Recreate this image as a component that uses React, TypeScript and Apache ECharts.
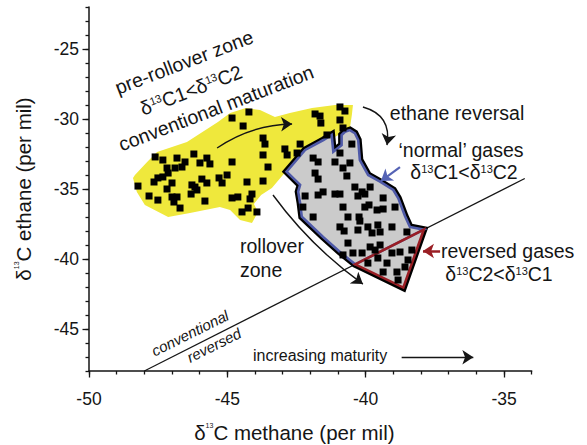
import React, { useEffect, useRef } from 'react';
import * as echarts from 'echarts';

// ---------- axis ticks ----------
const xTicks = [-50, -45, -40, -35];
const yTicks = [-45, -40, -35, -30, -25];

// ---------- samples (δ13C methane, δ13C ethane) ----------
const preRolloverSamples: number[][] = [
  [-44.22, -29.5], [-44.83, -29.93], [-44.43, -30.5], [-43.71, -31.36], [-43.64, -31.79],
  [-43.71, -32.57], [-43.53, -33.43], [-43.71, -34.43], [-47.61, -32.71], [-47.33, -32.93],
  [-46.82, -32.79], [-46.53, -33.07], [-46.21, -32.5], [-45.74, -32.79], [-45.63, -33.21],
  [-45.99, -33.14], [-46.64, -33.43], [-46.89, -33.5], [-47.18, -33.5], [-47.14, -33.86],
  [-47.33, -34.14], [-47.51, -34.21], [-47.65, -34.5], [-47.0, -34.57], [-47.18, -35.0],
  [-48.23, -34.79], [-47.83, -35.5], [-47.51, -35.79], [-47.0, -35.57], [-46.82, -35.57],
  [-46.93, -35.93], [-46.71, -36.36], [-46.28, -34.71], [-46.17, -34.86], [-46.31, -35.36],
  [-45.92, -34.29], [-45.74, -34.57], [-46.1, -35.07], [-45.81, -35.86], [-45.3, -34.21],
  [-45.19, -34.57], [-45.01, -34.0], [-44.83, -33.07], [-44.29, -34.5], [-44.83, -35.64],
  [-44.62, -35.57], [-44.11, -35.36], [-44.18, -35.71], [-44.47, -36.64], [-44.25, -36.36],
  [-43.93, -36.64], [-41.83, -29.64], [-41.65, -29.79], [-41.62, -30.29], [-40.93, -29.14],
  [-40.75, -29.43], [-40.93, -30.07], [-40.82, -30.64], [-41.4, -31.14], [-42.37, -31.79],
  [-42.92, -32.14], [-42.84, -32.57], [-42.48, -32.43],
];

const normalGasSamples: number[][] = [
  [-40.5, -31.79], [-40.93, -32.43], [-41.11, -33.07], [-41.9, -32.79], [-41.72, -33.07],
  [-40.57, -33.14], [-40.82, -33.5], [-41.83, -33.86], [-41.72, -34.29], [-40.68, -34.07],
  [-40.39, -34.86], [-39.84, -34.86], [-40.13, -35.21], [-40.03, -35.36], [-41.54, -35.21],
  [-41.72, -35.43], [-41.11, -35.36], [-40.93, -35.36], [-42.19, -35.5], [-42.27, -36.29],
  [-40.82, -36.29], [-40.28, -35.5], [-40.03, -36.29], [-39.88, -36.14], [-39.59, -36.5],
  [-39.37, -36.43], [-39.37, -35.64], [-38.94, -36.29], [-41.9, -37.0], [-40.64, -37.0],
  [-40.24, -37.0], [-40.21, -37.29], [-40.28, -37.93], [-39.92, -37.71], [-39.56, -37.57],
  [-39.48, -38.07], [-39.77, -38.14], [-39.05, -37.71], [-40.93, -37.71], [-40.78, -38.0],
  [-38.51, -38.07], [-40.64, -38.86], [-39.84, -39.14], [-39.66, -39.36], [-39.48, -39.0],
  [-40.46, -39.57], [-40.13, -39.57], [-40.82, -39.71],
];

const reversedGasSamples: number[][] = [
  [-39.05, -39.57], [-38.76, -39.5], [-38.33, -39.36], [-39.92, -40.29], [-39.56, -39.93],
  [-39.23, -40.29], [-38.47, -40.07], [-38.58, -40.57], [-39.37, -40.93], [-38.87, -40.93],
  [-38.83, -41.5],
];

// ---------- zones ----------
const preRolloverZone: number[][] = [
  [-48.34, -34.0], [-47.9, -33.07], [-47.54, -32.36], [-46.46, -31.64], [-45.34, -30.21],
  [-44.9, -29.57], [-44.33, -29.21], [-43.82, -29.36], [-43.28, -29.86], [-42.74, -29.57],
  [-41.94, -29.21], [-41.11, -29.0], [-40.46, -29.0], [-40.5, -29.71], [-40.57, -30.64],
  [-41.29, -31.5], [-42.55, -32.93], [-42.84, -33.64], [-43.39, -34.93], [-43.78, -35.43],
  [-44.04, -36.07], [-43.89, -36.64], [-44.11, -37.43], [-44.54, -37.21], [-44.9, -36.5],
  [-45.27, -36.29], [-45.81, -36.5], [-46.35, -36.71], [-47.14, -37.0], [-47.98, -36.14],
  [-48.27, -35.21], [-48.41, -34.21],
];

const normalZone: number[][] = [
  [-40.38, -40.38], [-40.93, -39.5], [-41.54, -38.43], [-42.31, -36.98], [-42.37, -36.02],
  [-42.44, -35.19], [-42.37, -34.71], [-42.86, -33.76], [-42.19, -32.21], [-41.53, -31.5],
  [-41.23, -31.14], [-41.17, -32.34], [-40.87, -31.86], [-40.87, -31.14], [-40.75, -30.91],
  [-40.57, -30.79], [-40.39, -31.02], [-40.27, -31.5], [-40.21, -32.93], [-39.91, -34.0],
  [-39.48, -34.48], [-39.0, -35.07], [-38.82, -35.66], [-38.58, -36.93], [-38.4, -37.71],
  [-37.9, -37.9],
];

const reversedZone: number[][] = [[-40.38, -40.38], [-37.9, -37.9], [-38.64, -42.04]];

const equalityLine: number[][] = [[-48, -48], [-34.25, -34.25]];

// ---------- arrows ----------
const maturationArrow = [[-45.37, -32.07], [-42.66, -30.36]];
const ethaneReversalArrow = [[-40.1, -29.14], [-39.23, -31.86]];
const rolloverArrow = [[-43.35, -35.43], [-40.1, -41.79]];
const normalGasArrow = [[-38.76, -33.43], [-39.45, -34.43]];
const reversedGasArrow = [[-37.31, -39.43], [-37.93, -39.43]];
const maturityArrow = [[-38.7, -47.02], [-36.11, -47.02]];

const FONT = "'Liberation Sans', Arial, Helvetica, sans-serif";
const INK = '#151515';
const YELLOW = '#efe83c';
const GRAY = '#cbcbcb';
const BLUE = '#4f5aa8';
const RED = '#9a1e24';

const deg = (d: number) => (d * Math.PI) / 180;

const iso = (a: string, b: string) => `{n|δ}{s|13}{n|C${a}<δ}{s|13}{n|C${b}}`;

const annRich = {
  n: { fontSize: 19.5, lineHeight: 18, fontFamily: FONT, fill: INK },
  s: { fontSize: 11, lineHeight: 11, fontFamily: FONT, fill: INK, verticalAlign: 'top' },
};

function text(
  t: string,
  x: number,
  y: number,
  opts: { rot?: number; size?: number; align?: string; italic?: boolean; rich?: boolean } = {}
) {
  const size = opts.size ?? 19.5;
  return {
    type: 'text',
    x,
    y,
    rotation: deg(opts.rot ?? 0),
    silent: true,
    z: 100,
    style: {
      text: t,
      fontSize: size,
      lineHeight: Math.round(size * 0.95),
      fontFamily: FONT,
      fontStyle: opts.italic ? 'italic' : 'normal',
      fill: INK,
      align: opts.align ?? 'center',
      verticalAlign: 'middle',
      rich: opts.rich ? annRich : undefined,
    },
  };
}

function polygonSeries(points: number[][], style: any, z: number) {
  return {
    type: 'custom',
    coordinateSystem: 'cartesian2d',
    xAxisIndex: 0,
    yAxisIndex: 0,
    silent: true,
    z,
    data: [points[0]],
    renderItem: (_params: any, api: any) => ({
      type: 'polygon',
      shape: { points: points.map((p) => api.coord(p)) },
      style,
    }),
  };
}

function arrowSeries(items: { coords: number[][]; curveness: number }[], color: string, width: number, z: number) {
  return {
    type: 'lines',
    coordinateSystem: 'cartesian2d',
    xAxisIndex: 0,
    yAxisIndex: 0,
    silent: true,
    z,
    symbol: ['none', 'arrow'],
    symbolSize: 11,
    lineStyle: { color, width, opacity: 1 },
    data: items.map((it) => ({ coords: it.coords, lineStyle: { curveness: it.curveness, color, width, opacity: 1 } })),
  };
}

const axisNameRich = {
  n: { fontSize: 20.5, fontFamily: FONT, color: INK },
  s: { fontSize: 7, fontFamily: FONT, color: INK, verticalAlign: 'top' },
};

export default function App() {
  const ref = useRef<HTMLDivElement>(null);

  useEffect(() => {
    if (!ref.current) return;
    const chart = echarts.init(ref.current, undefined, { renderer: 'svg' });
    const axisLine = { show: true, onZero: false, lineStyle: { color: INK, width: 1.5 } };

    const option: any = {
      animation: false,
      backgroundColor: '#ffffff',
      grid: { left: 89, top: 7, width: 442.7, height: 364, containLabel: false, outerBoundsMode: 'none' },
      xAxis: [
        {
          type: 'value',
          position: 'bottom',
          min: -50,
          max: -34,
          interval: 1,
          axisLine,
          axisTick: { show: true, length: 3.5, lineStyle: { color: INK, width: 1.3 } },
          axisLabel: { show: false },
          splitLine: { show: false },
        },
        {
          type: 'value',
          position: 'bottom',
          min: -50,
          max: -34,
          axisLine: { show: false, onZero: false },
          axisTick: { show: true, length: 6.5, customValues: xTicks, lineStyle: { color: INK, width: 1.3 } },
          axisLabel: { show: true, customValues: xTicks, margin: 19, fontSize: 17.5, fontFamily: FONT, color: INK },
          splitLine: { show: false },
          name: '{n|δ}{s|13}{n|C methane (per mil)}',
          nameLocation: 'middle',
          nameGap: 51,
          nameMoveOverlap: false,
          nameTextStyle: { rich: axisNameRich, padding: [0, 32, 0, 0] },
        },
      ],
      yAxis: [
        {
          type: 'value',
          position: 'left',
          min: -48,
          max: -22,
          interval: 1,
          axisLine,
          axisTick: { show: true, length: 3.5, lineStyle: { color: INK, width: 1.3 } },
          axisLabel: { show: false },
          splitLine: { show: false },
        },
        {
          type: 'value',
          position: 'left',
          min: -48,
          max: -22,
          axisLine: { show: false, onZero: false },
          axisTick: { show: true, length: 6.5, customValues: yTicks, lineStyle: { color: INK, width: 1.3 } },
          axisLabel: { show: true, customValues: yTicks, margin: 10, fontSize: 17.5, fontFamily: FONT, color: INK },
          splitLine: { show: false },
          name: '{n|δ}{s|13}{n|C ethane (per mil)}',
          nameLocation: 'middle',
          nameGap: 55,
          nameRotate: 90,
          nameMoveOverlap: false,
          nameTextStyle: { rich: axisNameRich },
        },
      ],
      series: [
        polygonSeries(preRolloverZone, { fill: YELLOW, stroke: 'none' }, 1),
        {
          type: 'line',
          xAxisIndex: 0,
          yAxisIndex: 0,
          data: equalityLine,
          symbol: 'none',
          silent: true,
          z: 2,
          lineStyle: { color: INK, width: 1.2 },
        },
        polygonSeries(normalZone.concat([reversedZone[2]]), { fill: 'none', stroke: '#000', lineWidth: 7, lineJoin: 'miter' }, 3),
        polygonSeries(normalZone.concat([reversedZone[2]]), { fill: GRAY, stroke: 'none' }, 4),
        polygonSeries(normalZone, { fill: 'none', stroke: BLUE, lineWidth: 2.6, lineJoin: 'miter' }, 5),
        polygonSeries(reversedZone, { fill: 'none', stroke: RED, lineWidth: 2.6, lineJoin: 'miter' }, 6),
        arrowSeries(
          [
            { coords: maturationArrow, curveness: 0.15 },
            { coords: ethaneReversalArrow, curveness: 0.45 },
            { coords: rolloverArrow, curveness: -0.08 },
            { coords: maturityArrow, curveness: 0 },
          ],
          INK,
          1.4,
          7
        ),
        arrowSeries([{ coords: normalGasArrow, curveness: 0 }], '#5563b5', 2.2, 7),
        arrowSeries([{ coords: reversedGasArrow, curveness: 0 }], RED, 2.6, 7),
        {
          type: 'scatter',
          name: 'samples',
          xAxisIndex: 0,
          yAxisIndex: 0,
          symbol: 'rect',
          symbolSize: 7,
          silent: true,
          z: 8,
          itemStyle: { color: '#000', opacity: 1 },
          data: preRolloverSamples.concat(normalGasSamples, reversedGasSamples),
        },
      ],
      graphic: [
        text('pre-rollover zone', 184, 62, { rot: 21 }),
        text(iso('1', '2'), 191, 90, { rot: 21, rich: true }),
        text('conventional maturation', 216, 108, { rot: 21 }),
        text('ethane reversal', 457, 113),
        text('‘normal’ gases', 461, 150),
        text(iso('1', '2'), 464, 172, { rich: true }),
        text('rollover', 240, 246, { align: 'left' }),
        text('zone', 240, 270, { align: 'left' }),
        text('reversed gases', 441, 251, { align: 'left' }),
        text(iso('2', '1'), 499, 274, { rich: true }),
        text('conventional', 190, 333, { rot: 26.5, size: 15, italic: true }),
        text('reversed', 214, 345, { rot: 26.5, size: 15, italic: true }),
        text('increasing maturity', 253, 355, { size: 16, align: 'left' }),
      ],
    };

    chart.setOption(option);
    return () => chart.dispose();
  }, []);

  return (
    <div
      ref={ref}
      style={{ position: 'fixed', left: 0, top: 0, width: 587, height: 445, background: '#fff' }}
    />
  );
}
